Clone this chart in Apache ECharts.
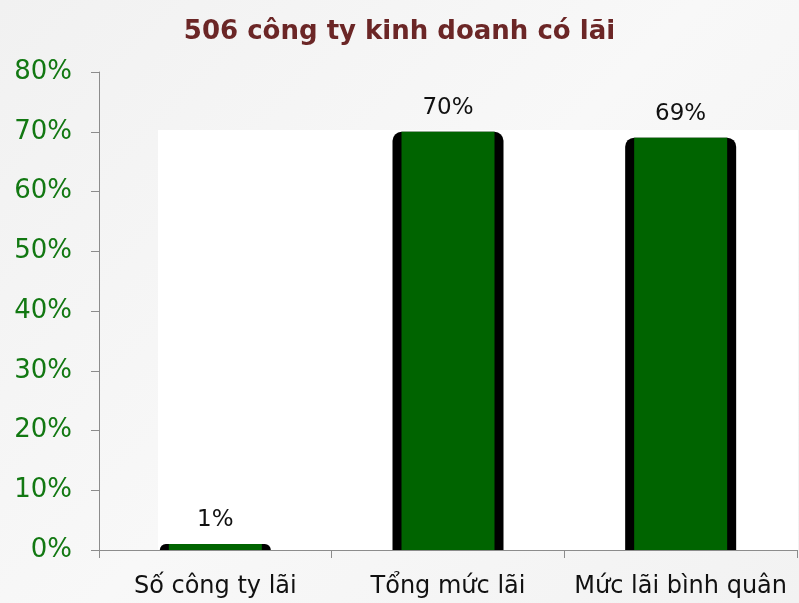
<!DOCTYPE html>
<html>
<head>
    <meta charset="utf-8">
    <title>506 công ty kinh doanh có lãi</title>
    <script src="https://cdn.jsdelivr.net/npm/echarts@6/dist/echarts.min.js"></script>
    <style type="text/css">
    html, body { margin: 0; padding: 0; }
    #main {
        width: 799px;
        height: 603px;
        background: linear-gradient(135deg, #f1f1f1 0%, #f8f8f8 50%, #f2f2f2 100%);
    }
    </style>
</head>
<body>
    <div id="main"></div>
    <script type="text/javascript">
    var categories = ['Số công ty lãi', 'Tổng mức lãi', 'Mức lãi bình quân'];
    var values = [1, 70, 69];
    var yTicks = [0, 10, 20, 30, 40, 50, 60, 70, 80];

    var font = 'DejaVu Sans';
    var axisGrey = '#8c8c8c';
    var myChart = echarts.init(document.getElementById('main'));

    myChart.setOption({
        backgroundColor: 'transparent',
        title: {
            text: '506 công ty kinh doanh có lãi',
            left: 'center',
            top: 14,
            textStyle: {
                color: '#6b2626',
                fontFamily: font,
                fontWeight: 'bold',
                fontSize: 26
            }
        },
        // white plot area like the original picture
        graphic: [{
            type: 'rect',
            z: -1,
            shape: { x: 158, y: 130, width: 640, height: 420 },
            style: { fill: '#ffffff' }
        }],
        grid: { left: 99, right: 2, top: 72, bottom: 53 },
        xAxis: [{
            type: 'category',
            data: categories,
            axisLine: { lineStyle: { color: axisGrey, width: 1 } },
            axisTick: { show: true, length: 8, lineStyle: { color: axisGrey } },
            axisLabel: {
                interval: 0,
                color: '#111',
                fontFamily: font,
                fontSize: 24,
                margin: 25
            }
        }, {
            // hidden twin axis so the black backing bar is centred under the green one
            type: 'category',
            data: categories,
            position: 'bottom',
            show: false
        }],
        yAxis: {
            type: 'value',
            min: yTicks[0],
            max: yTicks[yTicks.length - 1],
            interval: 10,
            splitLine: { show: false },
            axisLine: { show: true, lineStyle: { color: axisGrey, width: 1 } },
            axisTick: { show: true, length: 8, lineStyle: { color: axisGrey } },
            axisLabel: {
                color: '#127812',
                fontFamily: font,
                fontSize: 26,
                margin: 27,
                formatter: '{value}%'
            }
        },
        series: [{
            type: 'bar',
            xAxisIndex: 1,
            data: values,
            barWidth: 111,
            silent: true,
            z: 2,
            itemStyle: { color: '#000', borderRadius: [9, 9, 0, 0] }
        }, {
            type: 'bar',
            xAxisIndex: 0,
            data: values,
            barWidth: 93,
            z: 3,
            itemStyle: { color: '#006400' },
            label: {
                show: true,
                position: 'top',
                distance: 12,
                color: '#111',
                fontFamily: font,
                fontSize: 23,
                formatter: '{c}%'
            }
        }]
    });
    </script>
</body>
</html>
